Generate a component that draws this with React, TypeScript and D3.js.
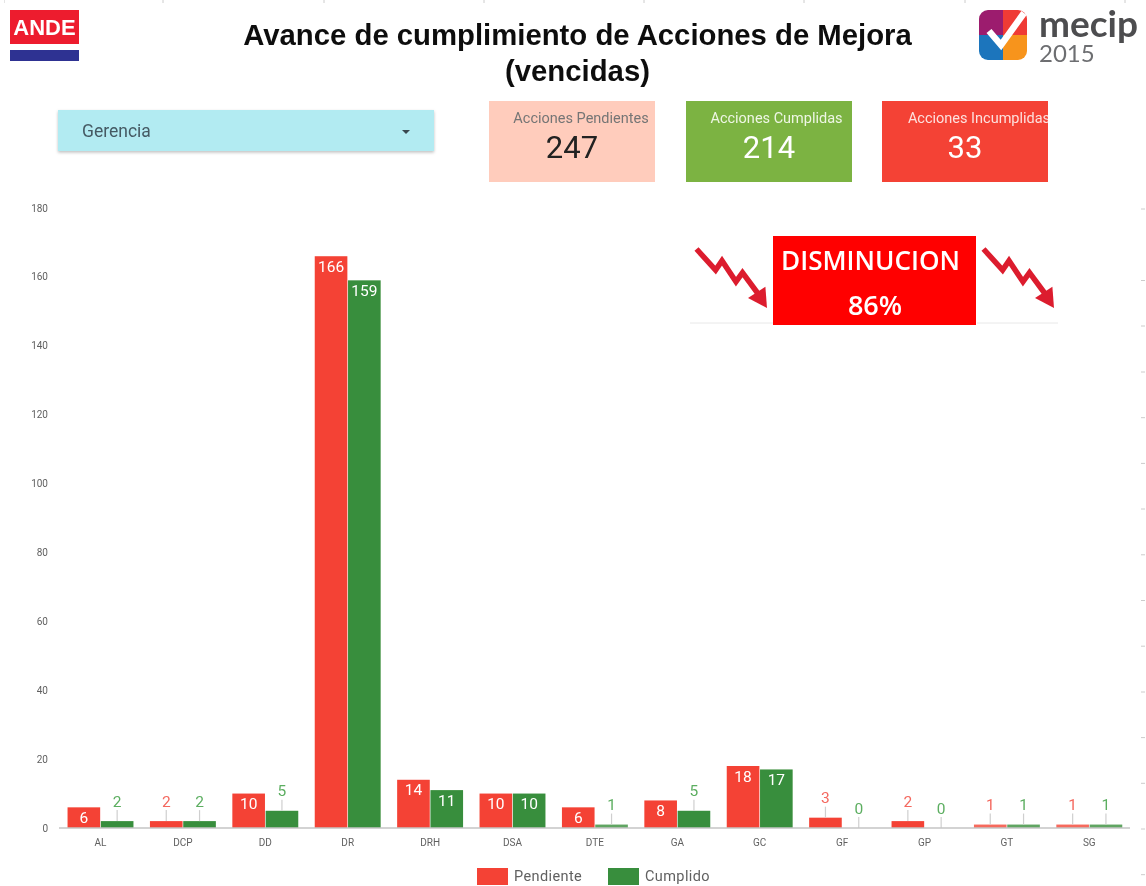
import React from "react";
import * as d3 from "d3";

const categories = ["AL","DCP","DD","DR","DRH","DSA","DTE","GA","GC","GF","GP","GT","SG"];
const pendiente = [6,2,10,166,14,10,6,8,18,3,2,1,1];
const cumplido = [2,2,5,159,11,10,1,5,17,0,0,1,1];
const yTicks = [0,20,40,60,80,100,120,140,160,180];
const seriesNames = ["Pendiente","Cumplido"];
const seriesColors = ["#f44336","#388e3c"];
const seriesLabelColors = ["#f4685e","#5cae60"];
const cards = [
  { title: "Acciones Pendientes", value: "247", fill: "#ffccbc", titleColor: "#757575", valueColor: "#212121", x: 489, tx: 581, vx: 572 },
  { title: "Acciones Cumplidas", value: "214", fill: "#7cb342", titleColor: "#eef6e4", valueColor: "#ffffff", x: 686, tx: 776.5, vx: 769 },
  { title: "Acciones Incumplidas", value: "33", fill: "#f44336", titleColor: "#fde0dd", valueColor: "#ffffff", x: 882, tx: 979, vx: 965 },
];
const topMarks = [4,163,324,484,644,804,965,1125];
const rightMarks = [209,280.5,326,372,417.7,463.4,509,554.8,600.5,646.2,692,737.6,783.3,829,874.7];

const W = 1146, H = 886;
const BASE = 828, TOP = 208;
const FONT = "Roboto, sans-serif";

const y = d3.scaleLinear().domain([0,180]).range([BASE,TOP]);
const x0 = d3.scaleBand<string>().domain(categories).range([59.3,1130.5]).paddingInner(0.2).paddingOuter(0.1);
const x1 = d3.scaleBand<string>().domain(seriesNames).range([0,x0.bandwidth()]).paddingInner(0.02);

function Arrow({ dx }: { dx: number }) {
  const line = d3.line()([[696.5,249],[715.6,270],[722,260.7],[736,281.7],[742.5,272.7],[759,295]].map(([a,b]) => [a+dx,b] as [number,number]));
  const head = d3.line()([[765.4,286.7],[748,298],[767,308]].map(([a,b]) => [a+dx,b] as [number,number]))+"Z";
  return (
    <g>
      <path d={line!} fill="none" stroke="#dc1f2e" strokeWidth={5.5} />
      <path d={head} fill="#dc1f2e" />
      <line x1={690+dx} x2={dx===0?773:1058-0} y1={323} y2={323} stroke="#e8e8e8" strokeWidth={1} />
    </g>
  );
}

function Bars() {
  const series = [pendiente, cumplido];
  return (
    <g>
      {seriesNames.map((name, s) => (
        <g key={name}>
          {categories.map((c, i) => {
            const v = series[s][i];
            const bx = x0(c)! + x1(name)!;
            const bw = x1.bandwidth();
            const top = y(v);
            const cx = bx + bw / 2;
            const inside = v >= 6;
            return (
              <g key={c}>
                <rect x={bx} y={top} width={bw} height={BASE - top} fill={seriesColors[s]} opacity={v === 1 ? 0.8 : 1} />
                {!inside && <line x1={cx} x2={cx} y1={top} y2={top - 11} stroke="#cfcfcf" strokeWidth={1.2} />}
                <text
                  x={cx}
                  y={inside ? top + 15.5 : top - 14.5}
                  textAnchor="middle"
                  fontFamily={FONT}
                  fontSize={15.5}
                  fontWeight={400}
                  fill={inside ? "#ffffff" : seriesLabelColors[s]}
                >{v}</text>
              </g>
            );
          })}
        </g>
      ))}
    </g>
  );
}

export default function App() {
  return (
    <svg width={W} height={H} viewBox={`0 0 ${W} ${H}`} style={{ position: "absolute", left: 0, top: 0, background: "#fff" }}>
      <defs>
        <filter id="soft" x="0" y="0" width="100%" height="100%">
          <feGaussianBlur stdDeviation="0.6" />
        </filter>
        <filter id="shadow" x="-5%" y="-20%" width="110%" height="150%">
          <feDropShadow dx="0" dy="1.5" stdDeviation="1.5" floodColor="#000" floodOpacity="0.25" />
        </filter>
        <clipPath id="clipInc"><rect x={882} y={101} width={166} height={81} /></clipPath>
      </defs>
      <g filter="url(#soft)">
        {topMarks.map(m => <line key={m} x1={m} x2={m} y1={0} y2={3} stroke="#cccccc" />)}
        {rightMarks.map(m => <line key={m} x1={1141} x2={1145} y1={m} y2={m} stroke="#cccccc" />)}

        {/* ANDE logo */}
        <rect x={10} y={10} width={69} height={34} fill="#ed1c2e" />
        <text x={44.5} y={35} textAnchor="middle" fontFamily="Liberation Sans, Arial, sans-serif" fontWeight={700} fontSize={22} fill="#fff">ANDE</text>
        <rect x={10} y={50} width={69} height={11} fill="#2e3192" />

        {/* Title */}
        <text x={577.5} y={45} textAnchor="middle" fontFamily="Liberation Sans, Arial, sans-serif" fontWeight={700} fontSize={29.3} fill="#111">Avance de cumplimiento de Acciones de Mejora</text>
        <text x={577.5} y={81} textAnchor="middle" fontFamily="Liberation Sans, Arial, sans-serif" fontWeight={700} fontSize={29.3} fill="#111">(vencidas)</text>

        {/* mecip logo */}
        <g>
          <clipPath id="clipLogo"><rect x={979} y={10} width={48} height={50} rx={9} /></clipPath>
          <g clipPath="url(#clipLogo)">
            <rect x={979} y={10} width={24} height={25} fill="#9c1f6e" />
            <rect x={1003} y={10} width={24} height={25} fill="#ef3b36" />
            <rect x={979} y={35} width={24} height={25} fill="#1b75bc" />
            <rect x={1003} y={35} width={24} height={25} fill="#f7941d" />
          </g>
          <path d="M989,31 L1001,45 L1024,13" fill="none" stroke="#fff" strokeWidth={6.5} />
          <text x={1039} y={37} fontFamily="Lato, sans-serif" fontWeight={700} fontSize={37} fill="#4d4d4f">mecip</text>
          <text x={1039} y={62} fontFamily="Lato, sans-serif" fontWeight={400} fontSize={24} fill="#6d6e71">2015</text>
        </g>

        {/* Dropdown */}
        <rect x={58} y={110} width={376} height={41} fill="#b2ebf2" filter="url(#shadow)" />
        <text x={82} y={136.5} fontFamily={FONT} fontSize={17.5} fill="#455a64">Gerencia</text>
        <path d="M402,130 L410,130 L406,134 Z" fill="#37474f" />

        {/* Cards */}
        {cards.map((c, i) => (
          <g key={c.title}>
            <rect x={c.x} y={101} width={166} height={81} fill={c.fill} />
            <g clipPath={i === 2 ? "url(#clipInc)" : undefined}>
              <text x={c.tx} y={123} textAnchor="middle" fontFamily={FONT} fontSize={14.5} fill={c.titleColor}>{c.title}</text>
            </g>
            <text x={c.vx} y={158} textAnchor="middle" fontFamily={FONT} fontSize={31} fill={c.valueColor}>{c.value}</text>
          </g>
        ))}

        {/* Disminucion */}
        <Arrow dx={0} />
        <Arrow dx={287} />
        <rect x={773} y={236} width={203} height={89} fill="#ff0000" />
        <text x={870.5} y={270} textAnchor="middle" fontFamily="Open Sans, sans-serif" fontWeight={600} fontSize={27} fill="#fff" textLength={179} lengthAdjust="spacingAndGlyphs">DISMINUCION</text>
        <text x={875} y={315} textAnchor="middle" fontFamily="Open Sans, sans-serif" fontWeight={600} fontSize={27} fill="#fff">86%</text>

        {/* Axes */}
        {yTicks.map(t => (
          <text key={t} x={48} y={y(t) + 3.5} textAnchor="end" fontFamily={FONT} fontSize={10} fill="#616161">{t}</text>
        ))}
        <Bars />
        <line x1={59} x2={1130} y1={BASE} y2={BASE} stroke="#c4c4c4" strokeWidth={1.5} />
        {categories.map(c => (
          <text key={c} x={x0(c)! + x0.bandwidth() / 2} y={846} textAnchor="middle" fontFamily={FONT} fontSize={10} fill="#616161">{c}</text>
        ))}

        {/* Legend */}
        <rect x={477} y={868} width={31} height={17} fill={seriesColors[0]} />
        <text x={514} y={881} fontFamily={FONT} fontSize={14.5} letterSpacing={0.4} fill="#616161">{seriesNames[0]}</text>
        <rect x={608} y={868} width={31} height={17} fill={seriesColors[1]} />
        <text x={645} y={881} fontFamily={FONT} fontSize={14.5} letterSpacing={0.4} fill="#616161">{seriesNames[1]}</text>
      </g>
    </svg>
  );
}
